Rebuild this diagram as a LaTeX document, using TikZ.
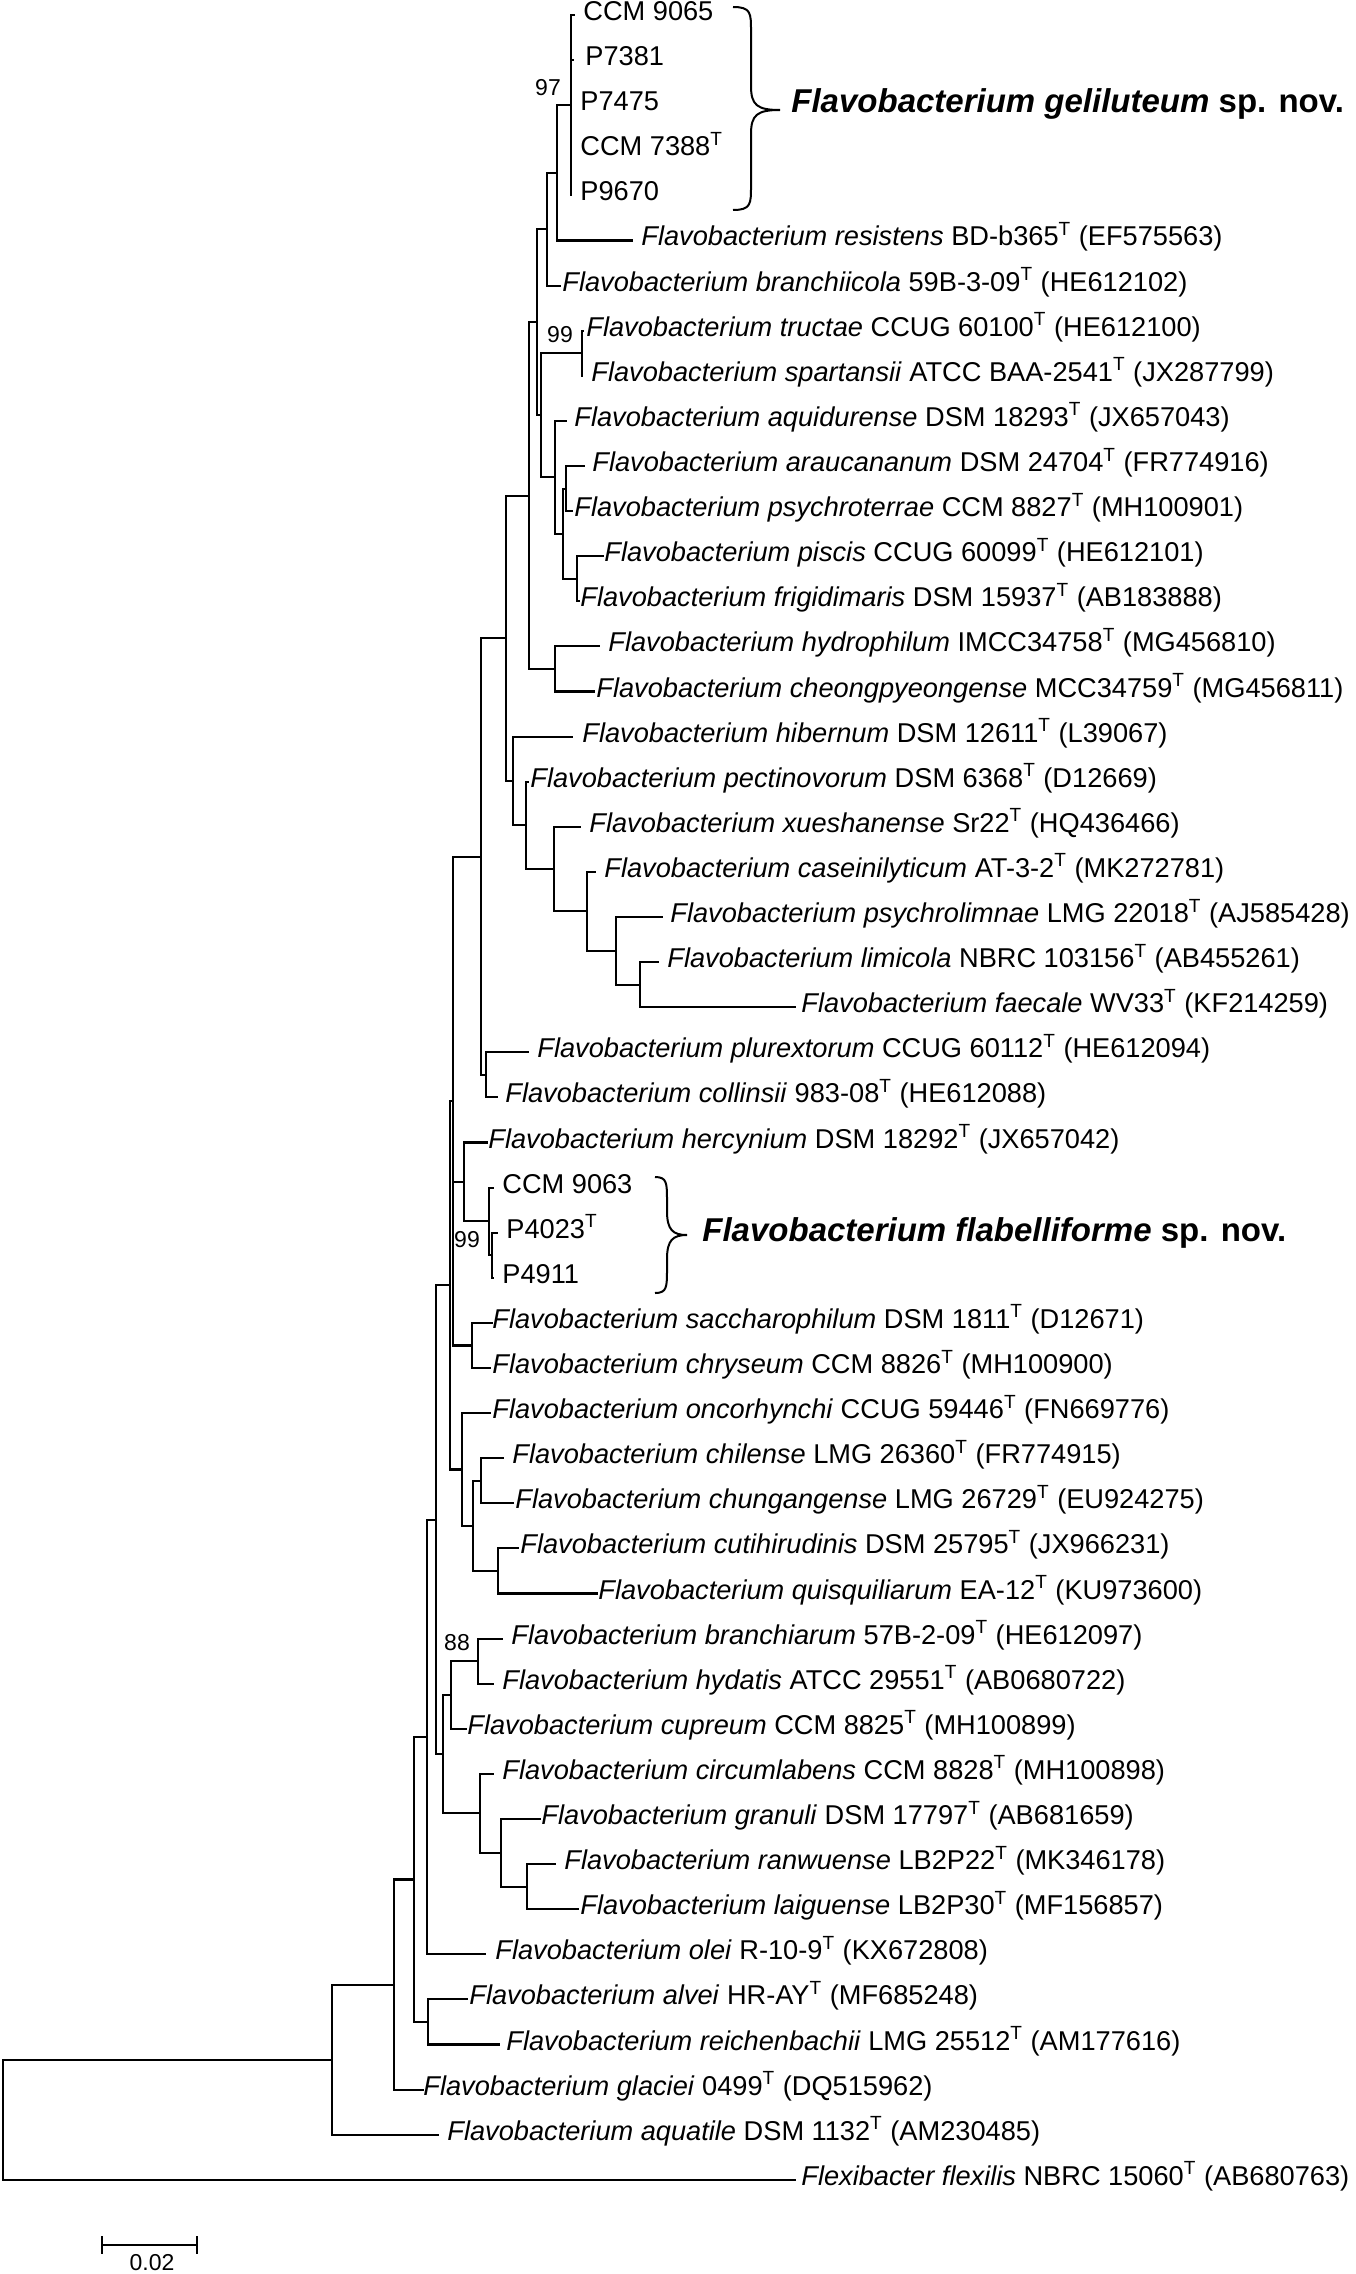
\documentclass[tikz,border=0pt]{standalone}
\usepackage{fontspec}
\setmainfont{Liberation Sans}
\usetikzlibrary{calc}
\newcommand\Ty{\textsuperscript{T}}
\newcommand\flavo[1]{\textit{Flavobacterium #1}}
\newcommand\leafnode[5]{% name, index, tip x, text x, label
  \pgfmathsetmacro\yyv{15+45.1*(#2-1)}%
  \coordinate (#1) at (#3,\yyv);
  \node[leaf] (#1t) at (#4,\yyv) {#5};
}
\newcommand\innode[4]{% name, x, first child, last child
  \coordinate (#1m) at ($(#3)!0.5!(#4)$);
  \coordinate (#1x) at (#2,0);
  \coordinate (#1) at (#1x |- #1m);
  \draw[br] (#1) |- (#3);
  \draw[br] (#1) |- (#4);
}
\newcommand\curlybrace[6]{% x0, xm, x1, y0, yt, y1
  \draw[brc] (#1,#4) .. controls (#2,#4) and (#2,{#4+6}) .. (#2,{#4+24})
    -- (#2,{#5-24}) .. controls (#2,{#5-5}) and ({#2+6},#5) .. (#3,#5)
    .. controls ({#2+6},#5) and (#2,{#5+5}) .. (#2,{#5+24})
    -- (#2,{#6-24}) .. controls (#2,{#6-6}) and (#2,#6) .. (#1,#6);
}
\begin{document}
\begin{tikzpicture}[x=0.5pt,y=-0.5pt,
  br/.style={line width=1.05pt, line cap=rect, line join=miter},
  brc/.style={line width=1pt},
  leaf/.style={anchor=west, inner sep=0pt, text height=0.75em, text depth=0.2em,
    font=\fontsize{13.6}{16}\selectfont},
  big/.style={anchor=west, inner sep=0pt, text height=0.75em, text depth=0.2em,
    font=\fontsize{16.5}{19}\selectfont\bfseries},
  boot/.style={inner sep=0pt, font=\fontsize{11.5}{13}\selectfont},
  scl/.style={inner sep=0pt, font=\fontsize{11.5}{13}\selectfont}]
\fill[white] (0,0) rectangle (1355,2274);
\useasboundingbox (0,0) rectangle (1355,2274);

% leaves
\leafnode{l1}{1}{574}{583}{CCM 9065}
\leafnode{l2}{2}{573}{585}{P7381}
\leafnode{l3}{3}{571}{580}{P7475}
\leafnode{l4}{4}{571}{580}{CCM 7388\Ty}
\leafnode{l5}{5}{571}{580}{P9670}
\leafnode{l6}{6}{632}{641}{\flavo{resistens} BD-b365\Ty{} (EF575563)}
\leafnode{l7}{7}{560}{562}{\flavo{branchiicola} 59B-3-09\Ty{} (HE612102)}
\leafnode{l8}{8}{583}{586}{\flavo{tructae} CCUG 60100\Ty{} (HE612100)}
\leafnode{l9}{9}{582}{591}{\flavo{spartansii} ATCC BAA-2541\Ty{} (JX287799)}
\leafnode{l10}{10}{566}{574}{\flavo{aquidurense} DSM 18293\Ty{} (JX657043)}
\leafnode{l11}{11}{584}{592}{\flavo{araucananum} DSM 24704\Ty{} (FR774916)}
\leafnode{l12}{12}{572}{574}{\flavo{psychroterrae} CCM 8827\Ty{} (MH100901)}
\leafnode{l13}{13}{603}{604}{\flavo{piscis} CCUG 60099\Ty{} (HE612101)}
\leafnode{l14}{14}{579}{580}{\flavo{frigidimaris} DSM 15937\Ty{} (AB183888)}
\leafnode{l15}{15}{599}{608}{\flavo{hydrophilum} IMCC34758\Ty{} (MG456810)}
\leafnode{l16}{16}{594}{596}{\flavo{cheongpyeongense} MCC34759\Ty{} (MG456811)}
\leafnode{l17}{17}{572}{582}{\flavo{hibernum} DSM 12611\Ty{} (L39067)}
\leafnode{l18}{18}{528}{530}{\flavo{pectinovorum} DSM 6368\Ty{} (D12669)}
\leafnode{l19}{19}{580}{589}{\flavo{xueshanense} Sr22\Ty{} (HQ436466)}
\leafnode{l20}{20}{595}{604}{\flavo{caseinilyticum} AT-3-2\Ty{} (MK272781)}
\leafnode{l21}{21}{662}{670}{\flavo{psychrolimnae} LMG 22018\Ty{} (AJ585428)}
\leafnode{l22}{22}{658}{667}{\flavo{limicola} NBRC 103156\Ty{} (AB455261)}
\leafnode{l23}{23}{795}{801}{\flavo{faecale} WV33\Ty{} (KF214259)}
\leafnode{l24}{24}{528}{537}{\flavo{plurextorum} CCUG 60112\Ty{} (HE612094)}
\leafnode{l25}{25}{497}{505}{\flavo{collinsii} 983-08\Ty{} (HE612088)}
\leafnode{l26}{26}{487}{488}{\flavo{hercynium} DSM 18292\Ty{} (JX657042)}
\leafnode{l27}{27}{493}{502}{CCM 9063}
\leafnode{l28}{28}{497}{506}{P4023\Ty}
\leafnode{l29}{29}{493}{502}{P4911}
\leafnode{l30}{30}{492}{492}{\flavo{saccharophilum} DSM 1811\Ty{} (D12671)}
\leafnode{l31}{31}{490}{492}{\flavo{chryseum} CCM 8826\Ty{} (MH100900)}
\leafnode{l32}{32}{490}{492}{\flavo{oncorhynchi} CCUG 59446\Ty{} (FN669776)}
\leafnode{l33}{33}{503}{512}{\flavo{chilense} LMG 26360\Ty{} (FR774915)}
\leafnode{l34}{34}{513}{515}{\flavo{chungangense} LMG 26729\Ty{} (EU924275)}
\leafnode{l35}{35}{518}{520}{\flavo{cutihirudinis} DSM 25795\Ty{} (JX966231)}
\leafnode{l36}{36}{597}{598}{\flavo{quisquiliarum} EA-12\Ty{} (KU973600)}
\leafnode{l37}{37}{502}{511}{\flavo{branchiarum} 57B-2-09\Ty{} (HE612097)}
\leafnode{l38}{38}{493}{502}{\flavo{hydatis} ATCC 29551\Ty{} (AB0680722)}
\leafnode{l39}{39}{466}{467}{\flavo{cupreum} CCM 8825\Ty{} (MH100899)}
\leafnode{l40}{40}{493}{502}{\flavo{circumlabens} CCM 8828\Ty{} (MH100898)}
\leafnode{l41}{41}{540}{541}{\flavo{granuli} DSM 17797\Ty{} (AB681659)}
\leafnode{l42}{42}{555}{564}{\flavo{ranwuense} LB2P22\Ty{} (MK346178)}
\leafnode{l43}{43}{578}{580}{\flavo{laiguense} LB2P30\Ty{} (MF156857)}
\leafnode{l44}{44}{485}{495}{\flavo{olei} R-10-9\Ty{} (KX672808)}
\leafnode{l45}{45}{467}{469}{\flavo{alvei} HR-AY\Ty{} (MF685248)}
\leafnode{l46}{46}{499}{506}{\flavo{reichenbachii} LMG 25512\Ty{} (AM177616)}
\leafnode{l47}{47}{423}{423}{\flavo{glaciei} 0499\Ty{} (DQ515962)}
\leafnode{l48}{48}{438}{447}{\flavo{aquatile} DSM 1132\Ty{} (AM230485)}
\leafnode{l49}{49}{795}{801}{\textit{Flexibacter flexilis} NBRC 15060\Ty{} (AB680763)}

% internal nodes
\innode{AO}{571}{l1}{l5}
\draw[br] (AO) |- (l2); \draw[br] (AO) |- (l3); \draw[br] (AO) |- (l4);
\innode{AP}{557}{AO}{l6}
\innode{AQ}{547}{AP}{l7}
\innode{AJ}{582}{l8}{l9}
\innode{AM}{566}{l11}{l12}
\innode{AN}{577}{l13}{l14}
\innode{AL}{563}{AM}{AN}
\innode{AK}{555}{l10}{AL}
\innode{AI}{541}{AJ}{AK}
\innode{AH}{537}{AQ}{AI}
\innode{AF}{555}{l15}{l16}
\innode{AG}{529}{AH}{AF}
\innode{AE}{640}{l22}{l23}
\innode{AD}{616}{l21}{AE}
\innode{AC}{587}{l20}{AD}
\innode{AB}{554}{l19}{AC}
\innode{AA}{526}{l18}{AB}
\innode{Z}{513}{l17}{AA}
\innode{R}{506}{AG}{Z}
\innode{V}{486}{l24}{l25}
\innode{Q}{481}{R}{V}
\innode{Y}{492}{l28}{l29}
\innode{X}{489}{l27}{Y}
\innode{W}{464}{l26}{X}
\innode{U}{472}{l30}{l31}
\innode{S}{453}{Q}{U}
\draw[br] (S) |- (W);
\innode{N}{481}{l33}{l34}
\innode{O}{498}{l35}{l36}
\innode{M}{473}{N}{O}
\innode{L}{462}{l32}{M}
\innode{T}{450}{S}{L}
\innode{H}{478}{l37}{l38}
\innode{G}{451}{H}{l39}
\innode{K}{527}{l42}{l43}
\innode{J}{501}{l41}{K}
\innode{I}{480}{l40}{J}
\innode{F}{443}{G}{I}
\innode{E}{436}{T}{F}
\innode{D}{427}{E}{l44}
\innode{AR}{428}{l45}{l46}
\innode{C}{414}{D}{AR}
\innode{B}{394}{C}{l47}
\innode{A}{332}{B}{l48}
\innode{root}{3}{A}{l49}

% bootstrap values
\node[boot] (b97) at (548,88) {97};
\node[boot] (b99a) at (560,335) {99};
\node[boot] (b99b) at (467,1240) {99};
\node[boot] (b88) at (457,1643) {88};

% braces and species labels
\curlybrace{733}{751}{780}{7}{110}{210}
\node[big] (gel) at (791,107) {\textit{Flavobacterium geliluteum} sp. nov.};
\curlybrace{655}{667}{687}{1177}{1235}{1293}
\node[big] (fla) at (702,1236) {\textit{Flavobacterium flabelliforme} sp. nov.};

% scale bar
\coordinate (s1) at (102,2245);
\coordinate (s2) at (197,2245);
\draw[br] (s1) -- (s2);
\draw[br] ($(s1)+(0,-8)$) -- ($(s1)+(0,8)$);
\draw[br] ($(s2)+(0,-8)$) -- ($(s2)+(0,8)$);
\node[scl] (sl) at (152,2263) {0.02};
\end{tikzpicture}
\end{document}
